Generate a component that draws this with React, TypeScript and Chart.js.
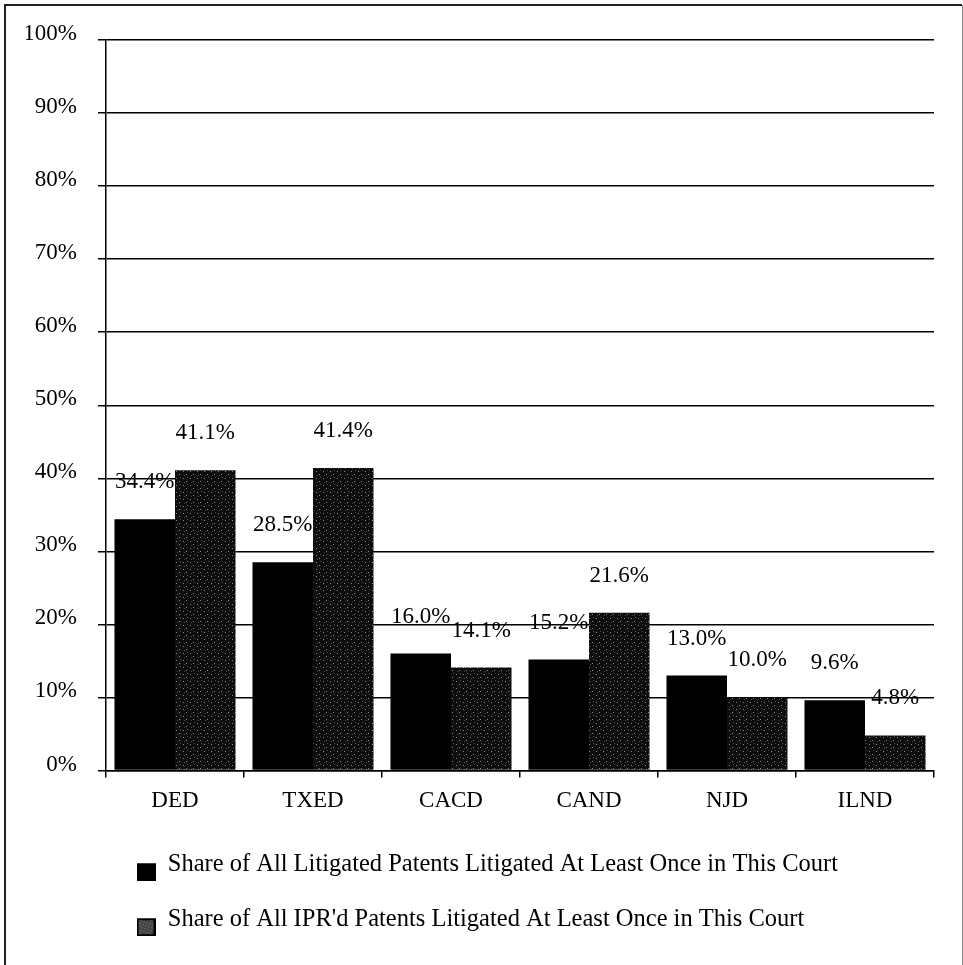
import React, { useEffect, useRef } from "react";
import { Chart, registerables } from "chart.js";

Chart.register(...registerables);

const categories = ["DED", "TXED", "CACD", "CAND", "NJD", "ILND"];
const litigatedShare = [34.4, 28.5, 16.0, 15.2, 13.0, 9.6];
const iprShare = [41.1, 41.4, 14.1, 21.6, 10.0, 4.8];
const seriesNames = [
  "Share of All Litigated Patents Litigated At Least Once in This Court",
  "Share of All IPR'd Patents Litigated At Least Once in This Court",
];
const yTickValues = [0, 10, 20, 30, 40, 50, 60, 70, 80, 90, 100];

const FONT = '"Liberation Serif", "DejaVu Serif", serif';

function makePattern(): CanvasPattern | string {
  const c = document.createElement("canvas");
  c.width = 7;
  c.height = 7;
  const g = c.getContext("2d");
  if (!g) return "#222";
  g.fillStyle = "#0d0d0d";
  g.fillRect(0, 0, 7, 7);
  g.fillStyle = "#8a8a8a";
  g.fillRect(1, 2, 1, 1);
  g.fillRect(4, 5, 1, 1);
  g.fillStyle = "#4a4a4a";
  g.fillRect(5, 1, 1, 1);
  g.fillRect(2, 6, 1, 1);
  const p = g.createPattern(c, "repeat");
  return p || "#222";
}

// legend marker image: box sits in the lower half so it appears below the text centre
function makeMarker(patterned: boolean): HTMLCanvasElement {
  const c = document.createElement("canvas");
  c.width = 19;
  c.height = 34;
  const g = c.getContext("2d");
  if (g) {
    g.fillStyle = "#000";
    g.fillRect(0, 16, 19, 18);
    if (patterned) {
      for (let yy = 18; yy < 32; yy++) {
        for (let xx = 2; xx < 17; xx++) {
          if ((xx + yy) % 2 === 0) {
            g.fillStyle = (xx * 3 + yy) % 5 === 0 ? "#d0d0d0" : "#888";
            g.fillRect(xx, yy, 1, 1);
          }
        }
      }
    }
  }
  return c;
}

const valueLabels = {
  id: "valueLabels",
  afterDatasetsDraw(chart: any) {
    const ctx = chart.ctx;
    ctx.save();
    ctx.font = `23px ${FONT}`;
    ctx.fillStyle = "#000";
    ctx.textAlign = "center";
    ctx.textBaseline = "middle";
    chart.data.datasets.forEach((ds: any, i: number) => {
      chart.getDatasetMeta(i).data.forEach((el: any, j: number) => {
        ctx.fillText(ds.data[j].toFixed(1) + "%", el.x, el.y - 37);
      });
    });
    ctx.restore();
  },
};

const frame = {
  id: "frame",
  afterDraw(chart: any) {
    const ctx = chart.ctx;
    ctx.save();
    ctx.strokeStyle = "#222";
    ctx.lineWidth = 2;
    ctx.beginPath();
    ctx.moveTo(5, 965);
    ctx.lineTo(5, 5);
    ctx.lineTo(962, 5);
    ctx.stroke();
    ctx.strokeStyle = "#888";
    ctx.lineWidth = 1;
    ctx.beginPath();
    ctx.moveTo(962.5, 5);
    ctx.lineTo(962.5, 965);
    ctx.stroke();
    ctx.restore();
  },
};

export default function App() {
  const ref = useRef<HTMLCanvasElement | null>(null);
  useEffect(() => {
    if (!ref.current) return;
    const pattern = makePattern();
    const markers = [makeMarker(false), makeMarker(true)];
    const chart = new Chart(ref.current, {
      type: "bar",
      data: {
        labels: categories,
        datasets: [
          {
            label: seriesNames[0],
            data: litigatedShare,
            backgroundColor: "#000",
            borderWidth: 0,
            categoryPercentage: 0.877,
            barPercentage: 1.0,
          },
          {
            label: seriesNames[1],
            data: iprShare,
            backgroundColor: pattern as any,
            borderWidth: 0,
            categoryPercentage: 0.877,
            barPercentage: 1.0,
          },
        ],
      },
      options: {
        responsive: false,
        maintainAspectRatio: false,
        animation: false,
        layout: { padding: { left: 26, right: 29, top: 40, bottom: 23.5 } },
        plugins: {
          tooltip: { enabled: false },
          legend: {
            position: "bottom",
            align: "start",
            fullSize: false,
            labels: {
              usePointStyle: true,
              pointStyleWidth: 19,
              boxWidth: 19,
              boxHeight: 18,
              padding: 30.5,
              color: "#000",
              font: { family: FONT, size: 24.5 },
              generateLabels: (ch: any) => {
                const items = (Chart as any).defaults.plugins.legend.labels.generateLabels(ch);
                items.forEach((it: any, i: number) => {
                  it.pointStyle = markers[i];
                });
                return items;
              },
            },
          },
        },
        scales: {
          x: {
            offset: true,
            afterFit: (s: any) => {
              s.height = 51;
            },
            grid: {
              display: true,
              drawOnChartArea: false,
              drawTicks: true,
              tickLength: 7,
              color: "#000",
              lineWidth: 1.5,
              offset: true,
            },
            border: { display: true, color: "#000", width: 1.5 },
            ticks: {
              color: "#000",
              padding: 10,
              font: { family: FONT, size: 23 },
            },
          },
          y: {
            min: 0,
            max: 100,
            afterBuildTicks: (s: any) => {
              s.ticks = yTickValues.map((v) => ({ value: v }));
            },
            afterFit: (s: any) => {
              s.width = 80;
            },
            grid: {
              color: "#000",
              lineWidth: 1.5,
              tickLength: 8,
              drawTicks: true,
            },
            border: { display: true, color: "#000", width: 1.5 },
            ticks: {
              color: "#000",
              padding: 21,
              labelOffset: -6,
              font: { family: FONT, size: 23 },
              callback: (v: any) => v + "%",
            },
          },
        },
      },
      plugins: [valueLabels, frame],
    });
    return () => chart.destroy();
  }, []);
  return (
    <div style={{ position: "absolute", left: 0, top: 0, width: 963, height: 965, background: "#fff" }}>
      <canvas ref={ref} width={963} height={965} style={{ display: "block" }} />
    </div>
  );
}
